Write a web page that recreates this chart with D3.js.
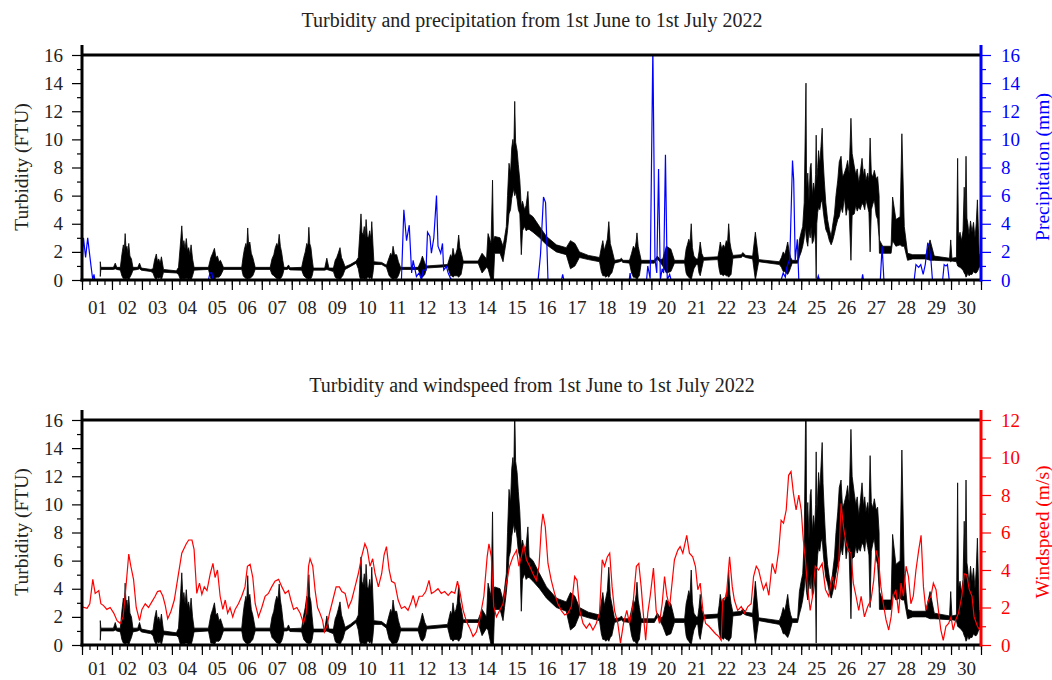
<!DOCTYPE html>
<html>
<head>
<meta charset="utf-8">
<script src="https://cdn.jsdelivr.net/npm/d3@7"></script>
<style>
  body { margin: 0; background: #fff; }
  svg text { font-family: "Liberation Serif", "Times New Roman", serif; }
</style>
</head>
<body>
<div id="chart"></div>
<script>
// day labels on the x axis (placed at midday)
var dayLabels = ["01","02","03","04","05","06","07","08","09","10",
                 "11","12","13","14","15","16","17","18","19","20",
                 "21","22","23","24","25","26","27","28","29","30"];

var leftTicks = [0, 2, 4, 6, 8, 10, 12, 14, 16];
var rainTicks = [0, 2, 4, 6, 8, 10, 12, 14, 16];
var windTicks = [0, 2, 4, 6, 8, 10, 12];

// turbidity (FTU): [day, low, high] envelope of the dense record
var turbidity = [
  [0.61,0.25,1.3],[0.63,0.75,0.9],[1.05,0.75,0.9],[1.11,0.8,1.2],[1.16,0.75,0.9],
  [1.28,0.7,0.9],[1.33,0.3,1.8],[1.38,0.1,2.5],[1.41,0.1,2.0],[1.44,0,3.3],[1.47,0.1,2.2],
  [1.5,0.1,2.4],[1.53,0.1,1.9],[1.56,0,2.6],[1.6,0.2,1.7],[1.65,0.4,1.5],[1.7,0.7,0.9],
  [1.86,0.75,0.9],[1.92,0.8,1.2],[1.98,0.7,0.85],[2.3,0.6,0.75],
  [2.37,0.5,0.8],[2.42,0.2,1.4],[2.48,0,1.85],[2.52,0.2,1.3],[2.56,0.1,1.5],[2.61,0.2,1.2],
  [2.65,0,1.65],[2.72,0.55,0.75],[3.15,0.5,0.65],
  [3.22,0.4,0.9],[3.27,0.1,2.2],[3.3,0,3.0],[3.33,0,3.85],[3.37,0.1,2.4],[3.4,0,2.8],
  [3.44,0.1,2.2],[3.48,0.1,2.95],[3.52,0.1,2.1],[3.56,0,2.3],[3.6,0.1,1.8],[3.64,0,2.5],
  [3.69,0.3,1.5],[3.74,0.7,0.9],
  [4.22,0.75,0.9],[4.3,0.1,1.6],[4.36,0.1,1.9],[4.42,0,2.25],[4.47,0.2,1.6],[4.52,0.2,1.7],
  [4.57,0.2,1.3],[4.62,0.3,1.4],[4.72,0.75,0.9],
  [5.33,0.75,0.9],[5.38,0.3,1.7],[5.42,0.2,2.2],[5.47,0.1,2.6],[5.5,0.1,2.3],[5.53,0,3.7],
  [5.56,0.1,2.5],[5.6,0.1,2.7],[5.65,0.2,1.9],[5.7,0.3,1.6],[5.78,0.75,0.9],
  [6.28,0.75,0.9],[6.34,0.4,1.5],[6.4,0.3,1.8],[6.45,0.2,2.3],[6.5,0.1,2.6],[6.54,0.1,2.4],
  [6.58,0,3.25],[6.62,0.1,2.4],[6.66,0.2,2.0],[6.7,0.4,1.4],[6.74,0.75,0.9],
  [6.84,0.75,0.9],[6.89,0.8,1.07],[6.94,0.72,0.87],
  [7.33,0.7,0.9],[7.4,0.3,1.6],[7.45,0.2,2.0],[7.5,0.1,2.6],[7.54,0.1,2.4],[7.57,0,3.75],
  [7.6,0.1,2.6],[7.64,0.1,2.3],[7.68,0.3,1.5],[7.72,0.7,0.85],
  [8.1,0.7,0.85],[8.17,0.75,1.55],[8.24,0.7,0.85],
  [8.39,0.6,0.85],[8.45,0.2,1.4],[8.5,0.1,1.6],[8.55,0.1,1.9],[8.61,0,2.3],[8.66,0.2,1.6],
  [8.7,0.3,1.4],[8.78,0.75,0.95],[8.95,0.95,1.1],[9.15,1.2,1.35],
  [9.22,0.8,1.6],[9.27,0.2,3.3],[9.31,0,4.7],[9.34,0.1,3.4],[9.38,0.1,3.2],[9.42,0,3.8],
  [9.45,0.1,3.0],[9.48,0,4.3],[9.52,0.2,3.1],[9.56,0.2,3.0],[9.6,0.1,3.5],[9.64,0.2,2.9],
  [9.67,0,4.15],[9.71,0.5,2.5],[9.74,1.1,1.3],[10.0,1.1,1.25],
  [10.16,0.9,1.05],[10.25,0.3,1.6],[10.3,0.2,1.9],[10.34,0.1,1.7],[10.38,0,2.4],
  [10.43,0.1,1.8],[10.5,0.1,1.8],[10.56,0.3,1.3],[10.63,0.75,0.9],
  [11.22,0.75,0.9],[11.3,0.3,1.3],[11.36,0.2,1.7],[11.44,0.4,1.2],[11.5,0.85,1.0],
  [12.2,0.95,1.1],[12.3,0.3,1.8],[12.34,0.3,1.6],[12.38,0.2,2.25],[12.43,0.3,1.7],
  [12.48,0.3,1.9],[12.52,0.3,2.2],[12.57,0.2,3.2],[12.61,0.3,2.3],[12.65,0.4,2.0],
  [12.72,1.2,1.35],[13.22,1.2,1.35],[13.35,0.5,1.9],[13.5,0.9,1.5],
  [13.55,0.8,3.3],[13.65,0,2.6],[13.7,0,7.1],[13.73,0,2.8],[13.77,1.9,3.1],
  [13.95,1.9,3.0],[14.05,1.3,2.4],[14.1,2.0,3.0],[14.16,2.8,3.8],[14.2,3.5,6.0],
  [14.25,4.7,8.3],[14.3,5.0,7.6],[14.34,5.8,9.4],[14.38,6.2,10.0],[14.41,6.5,9.3],
  [14.44,6.0,12.7],[14.47,6.3,9.8],[14.52,5.7,9.2],[14.56,5.0,8.2],[14.61,4.7,7.1],
  [14.66,1.8,5.2],[14.7,3.5,5.6],[14.77,3.8,5.0],[14.82,3.5,5.3],[14.88,3.6,6.3],
  [14.92,3.6,4.7],[15.05,3.4,4.5],[15.27,3.0,3.8],[15.5,2.5,3.1],
  [15.83,2.0,2.5],[16.16,1.8,2.3],[16.3,0.8,2.8],[16.45,1.0,2.6],[16.6,1.6,2.0],
  [16.9,1.45,1.75],
  [17.27,1.3,1.6],[17.33,0.6,2.3],[17.38,0.3,2.8],[17.43,0.3,2.1],[17.48,0.2,2.5],
  [17.53,0.3,2.9],[17.58,0.2,4.15],[17.63,0.4,2.6],[17.68,0.5,2.2],[17.77,1.2,1.4],
  [17.95,1.3,1.45],[18.0,1.35,1.55],[18.05,1.25,1.4],
  [18.27,1.2,1.4],[18.34,0.5,1.9],[18.4,0.2,2.4],[18.45,0.2,2.2],[18.49,0.1,2.7],
  [18.52,0,3.35],[18.56,0.2,2.4],[18.6,0.3,2.0],[18.66,1.2,1.4],
  [19.1,1.2,1.4],[19.2,1.5,1.7],[19.3,1.25,1.45],[19.38,1.0,1.5],[19.5,0.5,2.4],
  [19.65,0.6,2.2],[19.77,1.2,1.4],
  [20.11,1.2,1.4],[20.16,0.5,2.2],[20.2,0.3,2.5],[20.25,0.2,2.9],[20.29,0.1,2.6],
  [20.33,0,4.0],[20.37,0.4,2.3],[20.42,0.8,1.7],[20.5,1.1,1.5],[20.55,1.1,1.5],
  [20.59,0.5,2.0],[20.63,0.3,2.7],[20.68,0.8,1.9],[20.74,1.4,1.6],
  [21.22,1.45,1.65],[21.26,0.8,2.1],[21.3,0.4,2.7],[21.35,0.4,2.2],[21.4,0.3,2.5],
  [21.45,0.4,2.3],[21.5,0.3,2.8],[21.54,0.3,2.6],[21.58,0.2,4.0],[21.62,0.3,2.7],
  [21.66,0.4,2.2],[21.72,1.55,1.75],
  [22.0,1.6,1.8],[22.05,1.7,1.95],[22.15,1.6,1.75],[22.38,1.5,1.7],[22.47,0,3.4],
  [22.58,1.3,1.45],
  [23.27,1.1,1.3],[23.34,0.9,1.6],[23.4,0.6,2.0],[23.45,0.6,1.8],[23.5,0.5,2.2],
  [23.55,0.4,2.7],[23.6,0.6,2.0],[23.65,0.9,1.6],[23.7,1.2,1.4],[23.88,1.2,1.4],
  [23.94,1.65,2.85],[24.0,2.0,3.4],[24.05,2.4,3.8],[24.1,3.0,5.5],[24.14,3.8,11.3],
  [24.16,3.2,14.0],[24.18,2.8,6.5],[24.22,2.4,7.6],[24.26,3.5,5.6],[24.3,3.0,8.0],
  [24.33,3.8,8.3],[24.37,2.6,6.0],[24.41,2.8,6.9],[24.45,3.5,6.2],[24.48,2.5,7.5],
  [24.5,0.1,10.3],[24.52,4.0,7.0],[24.55,4.8,8.0],[24.58,5.2,9.2],[24.62,5.0,8.2],
  [24.66,5.5,9.5],[24.7,5.7,10.8],[24.73,5.0,8.6],[24.77,4.3,7.1],[24.82,3.6,5.5],
  [24.88,3.3,4.3],[24.94,2.8,3.6],[25.0,2.5,3.1],[25.05,2.8,3.9],[25.11,3.3,4.7],
  [25.16,3.8,6.0],[25.22,4.3,7.1],[25.27,4.5,8.4],[25.33,5.2,8.8],[25.38,4.8,7.3],
  [25.44,5.9,7.6],[25.5,4.6,8.0],[25.55,5.2,8.5],[25.6,4.9,7.6],[25.66,1.4,11.5],
  [25.7,4.6,9.0],[25.77,4.7,8.1],[25.82,5.3,7.5],[25.87,4.9,7.9],[25.92,5.2,6.9],
  [25.97,5.0,7.6],[26.03,5.45,8.65],[26.08,5.3,7.4],[26.12,5.0,7.9],[26.16,5.7,7.1],
  [26.22,5.2,7.6],[26.26,4.8,7.0],[26.3,2.0,10.1],[26.34,5.0,7.6],[26.39,5.4,7.3],
  [26.44,5.7,7.8],[26.5,4.6,7.2],[26.55,4.3,7.35],[26.6,3.0,6.0],[26.61,1.9,2.85],
  [26.72,1.9,2.4],[27.0,1.9,2.4],
  [27.05,2.8,5.9],[27.16,2.4,4.3],[27.3,2.5,4.5],[27.36,2.4,10.4],[27.44,2.4,3.8],
  [27.55,1.4,1.9],[27.72,1.5,1.8],[28.16,1.5,1.8],[28.3,1.4,2.85],[28.44,1.4,1.7],
  [28.95,1.35,1.55],[28.99,1.3,2.85],[29.03,1.35,1.55],[29.18,1.3,1.6],
  [29.22,1.0,8.65],[29.25,0.95,3.0],[29.3,0.9,3.4],[29.35,0.8,2.8],[29.4,0.7,3.5],
  [29.44,0.5,6.6],[29.47,0.4,4.2],[29.5,0.2,8.8],[29.53,0.3,4.4],[29.56,0.5,4.0],
  [29.6,0.3,3.2],[29.65,0.4,4.2],[29.7,0.4,3.4],[29.75,0.6,4.1],[29.8,0.5,3.0],
  [29.84,0.5,4.0],[29.88,0.6,5.7],[29.94,0.9,1.9],[30.0,1.0,1.5]
];

// precipitation (mm): [day, value]
var precipitation = [
  [0,1.0],[0.05,3.0],[0.12,1.6],[0.19,3.0],[0.3,1.0],[0.36,0],[0.4,0.4],[0.43,0],
  [4.22,0],[4.27,0.5],[4.33,0.5],[4.37,0],
  [10.66,0],[10.74,5.0],[10.83,2.8],[10.92,3.9],[11.0,0.5],[11.05,1.4],[11.16,0.25],
  [11.25,0.5],[11.33,0],[11.38,0.7],[11.48,0.7],[11.53,3.4],[11.61,3.1],[11.66,1.9],
  [11.74,3.0],[11.83,6.0],[11.88,2.4],[11.97,1.9],[12.03,2.6],[12.07,0.7],[12.16,0.95],
  [12.22,0.5],[12.3,0.1],[12.36,0],
  [15.22,0],[15.3,1.8],[15.4,5.9],[15.47,5.5],[15.55,0],
  [16.0,0],[16.04,0.4],[16.08,0],
  [18.26,0],[18.29,0.5],[18.32,0],
  [18.84,0],[18.88,1.0],[18.96,0.1],[19.05,16.5],[19.12,1.5],[19.18,0.5],[19.24,7.9],
  [19.3,0],[19.36,0.8],[19.41,0.5],[19.47,8.9],[19.53,0],[19.61,0.4],[19.66,0],
  [23.33,0],[23.4,0.5],[23.47,0.2],[23.52,0.9],[23.62,1.5],[23.71,8.5],[23.75,7.1],
  [23.8,1.4],[23.87,2.9],[23.92,0],
  [24.53,0],[24.57,0.3],[24.61,0],
  [26.02,0],[26.05,0.4],[26.08,0],
  [26.64,0],[26.7,2.4],[26.76,0],
  [27.77,0],[27.83,1.1],[27.92,0.9],[27.99,1.1],[28.07,0.4],[28.14,1.1],[28.22,2.6],
  [28.27,2.5],[28.33,1.4],[28.38,0],
  [28.72,0],[28.77,1.1],[28.83,1.0],[28.88,1.1],[28.94,0],[30,0]
];

// windspeed (m/s): [day, value]
var windspeed = [
  [0,2.04],[0.17,1.96],[0.26,2.2],[0.36,3.5],[0.44,2.75],[0.56,2.9],[0.63,2.2],[0.72,2.1],
  [0.83,1.9],[0.94,2.0],[1.06,1.7],[1.17,1.3],[1.28,1.15],[1.37,1.5],[1.44,2.6],[1.56,4.85],
  [1.63,4.2],[1.72,3.5],[1.81,2.0],[1.92,1.3],[2.0,1.9],[2.11,2.2],[2.22,2.0],[2.33,2.3],
  [2.44,2.6],[2.52,2.85],[2.61,2.9],[2.7,2.6],[2.78,2.1],[2.86,1.4],[2.97,1.8],[3.08,2.4],
  [3.19,3.5],[3.33,4.9],[3.48,5.4],[3.56,5.6],[3.67,5.6],[3.74,5.1],[3.83,2.75],[3.92,3.3],
  [4.0,2.7],[4.08,3.1],[4.17,2.9],[4.28,3.8],[4.37,4.35],[4.44,3.6],[4.52,4.0],[4.61,2.6],
  [4.7,1.9],[4.78,2.4],[4.86,1.7],[4.94,2.0],[5.03,1.5],[5.11,1.9],[5.22,2.2],[5.33,2.6],
  [5.44,3.1],[5.52,4.2],[5.61,4.3],[5.7,3.6],[5.78,2.2],[5.89,1.5],[6.0,2.0],[6.11,2.6],
  [6.22,2.75],[6.33,3.1],[6.44,3.4],[6.56,3.5],[6.67,3.1],[6.78,2.75],[6.89,2.9],[6.97,2.4],
  [7.06,1.9],[7.17,2.0],[7.28,1.7],[7.39,1.15],[7.48,1.7],[7.56,4.2],[7.61,4.6],[7.7,4.2],
  [7.78,2.9],[7.86,2.0],[7.94,1.7],[8.03,1.3],[8.09,0.7],[8.17,1.0],[8.26,1.7],[8.37,2.4],
  [8.48,3.1],[8.59,3.1],[8.67,2.85],[8.78,2.75],[8.89,2.0],[9.0,2.4],[9.11,3.1],[9.22,3.8],
  [9.33,4.7],[9.44,5.4],[9.52,5.1],[9.61,4.2],[9.7,4.6],[9.78,3.8],[9.89,3.1],[10.0,3.8],
  [10.08,4.8],[10.16,5.25],[10.25,4.0],[10.33,3.4],[10.44,3.3],[10.55,2.4],[10.66,1.95],
  [10.77,2.05],[10.88,1.85],[10.99,2.3],[11.05,2.65],[11.14,2.05],[11.25,2.6],[11.36,2.6],
  [11.47,2.85],[11.58,3.45],[11.66,2.75],[11.77,2.85],[11.88,3.0],[11.99,2.75],[12.1,2.85],
  [12.22,2.65],[12.33,2.85],[12.44,2.75],[12.53,3.4],[12.61,2.85],[12.72,1.85],[12.83,1.25],
  [12.94,0.9],[13.05,0.45],[13.16,0.7],[13.27,1.35],[13.41,2.6],[13.52,4.7],[13.58,5.4],
  [13.66,4.7],[13.74,2.05],[13.83,1.5],[13.94,1.85],[14.05,2.2],[14.16,3.3],[14.27,4.2],
  [14.38,4.7],[14.5,5.05],[14.58,4.2],[14.66,4.7],[14.74,5.35],[14.83,4.55],[14.94,4.2],
  [15.05,3.8],[15.16,3.45],[15.25,4.2],[15.33,6.3],[15.38,7.0],[15.46,6.3],[15.55,4.35],
  [15.66,3.45],[15.77,2.75],[15.88,2.2],[15.99,1.85],[16.11,1.6],[16.22,1.7],[16.33,2.05],
  [16.44,3.65],[16.52,3.45],[16.61,1.85],[16.72,1.15],[16.83,0.9],[16.94,1.15],[17.05,0.8],
  [17.16,1.15],[17.27,1.7],[17.36,4.55],[17.44,4.2],[17.53,4.7],[17.61,4.9],[17.69,3.1],
  [17.77,1.85],[17.88,1.15],[17.97,0.1],[18.07,1.15],[18.18,1.85],[18.27,1.15],[18.38,2.05],
  [18.5,4.2],[18.58,4.35],[18.66,3.1],[18.74,1.5],[18.81,0.25],[18.88,1.7],[18.96,2.6],
  [19.07,4.1],[19.16,1.85],[19.27,1.15],[19.36,2.2],[19.44,3.65],[19.52,2.6],[19.61,2.05],
  [19.7,3.45],[19.77,4.55],[19.88,5.05],[19.96,5.25],[20.05,4.9],[20.18,5.85],[20.27,4.9],
  [20.38,4.7],[20.47,4.2],[20.55,2.95],[20.63,3.3],[20.72,1.85],[20.81,1.15],[20.92,1.0],
  [21.03,0.8],[21.14,0.6],[21.25,0.45],[21.33,0.25],[21.38,2.4],[21.5,2.6],[21.61,4.7],
  [21.7,3.1],[21.77,2.4],[21.88,1.85],[22.0,2.05],[22.11,1.7],[22.22,2.05],[22.33,2.2],
  [22.41,3.65],[22.5,4.2],[22.58,4.0],[22.66,3.45],[22.74,2.95],[22.83,3.3],[22.92,2.65],
  [23.03,4.35],[23.14,3.8],[23.25,5.05],[23.33,6.65],[23.41,6.5],[23.5,7.2],[23.58,9.05],
  [23.66,9.25],[23.74,8.1],[23.83,7.2],[23.92,8.0],[24.0,7.2],[24.07,5.6],[24.14,4.55],
  [24.22,2.95],[24.3,1.85],[24.38,2.6],[24.47,4.2],[24.58,4.0],[24.7,4.35],[24.81,2.95],
  [24.92,2.6],[25.03,3.65],[25.14,2.95],[25.25,4.2],[25.33,7.55],[25.41,6.3],[25.5,5.4],
  [25.58,5.05],[25.66,4.9],[25.74,3.3],[25.83,2.6],[25.92,1.85],[26.0,2.6],[26.11,1.5],
  [26.22,2.05],[26.33,2.4],[26.42,3.45],[26.5,5.05],[26.58,4.55],[26.66,3.1],[26.74,2.2],
  [26.83,1.35],[26.92,0.8],[27.0,1.5],[27.07,2.6],[27.16,2.95],[27.25,1.7],[27.33,3.3],
  [27.41,2.6],[27.5,4.2],[27.58,3.65],[27.66,2.2],[27.74,2.6],[27.83,4.0],[27.92,5.05],
  [28.0,5.85],[28.08,3.1],[28.16,1.85],[28.25,2.4],[28.33,2.6],[28.41,3.3],[28.5,2.95],
  [28.58,1.85],[28.66,0.8],[28.74,0.25],[28.83,1.0],[28.92,1.15],[29.0,1.5],[29.07,0.8],
  [29.16,1.35],[29.25,1.7],[29.36,2.6],[29.44,3.8],[29.52,3.75],[29.61,2.95],[29.7,2.6],
  [29.77,1.5],[29.88,1.0],[29.96,0.8]
];

var width = 1052;
var height = 680;
var plotHeight = 225;
var textColor = "#222";

var svg = d3.select("#chart")
  .append("svg")
    .attr("width", width)
    .attr("height", height);

var x = d3.scaleLinear()
  .domain([0, 30])
  .range([82, 981]);

function styleAxis(g, size, color) {
  g.select(".domain").remove();
  g.attr("font-size", size)
   .attr("font-family", "Liberation Serif, Times New Roman, serif");
  g.selectAll(".tick line").attr("stroke", color).attr("stroke-width", 1.2);
  g.selectAll(".tick text").attr("fill", color === "#000" ? textColor : color);
}

function drawPanel(top, titleText, turbMax, series, rightMax, rightTicks, rightColor, rightTitle, clipId, labelPad) {
  var bottom = top + plotHeight;

  var yLeft = d3.scaleLinear().domain([0, 16]).range([bottom, top]);
  var yRight = d3.scaleLinear().domain([0, rightMax]).range([bottom, top]);
  // turbidity curve drawn against its own scale (the lower panel follows the windspeed scale)
  var yTurb = d3.scaleLinear().domain([0, turbMax]).range([bottom, top]);

  svg.append("clipPath")
      .attr("id", clipId)
    .append("rect")
      .attr("x", x(0))
      .attr("y", top)
      .attr("width", x(30) - x(0))
      .attr("height", plotHeight);

  var plot = svg.append("g").attr("clip-path", "url(#" + clipId + ")");

  plot.append("path")
    .datum(turbidity)
    .attr("fill", "#000")
    .attr("stroke", "#000")
    .attr("stroke-width", 0.8)
    .attr("d", d3.area()
      .x(function(d) { return x(d[0]); })
      .y0(function(d) { return yTurb(d[1]); })
      .y1(function(d) { return yTurb(d[2]); })
    );

  plot.append("path")
    .datum(series)
    .attr("fill", "none")
    .attr("stroke", rightColor)
    .attr("stroke-width", 1.2)
    .attr("d", d3.line()
      .x(function(d) { return x(d[0]); })
      .y(function(d) { return yRight(d[1]); })
    );

  // left axis: minor ticks every unit, labelled majors every 2
  svg.append("g")
    .attr("transform", "translate(" + x(0) + ",0)")
    .call(d3.axisLeft(yLeft).tickValues(d3.range(1, 16, 2)).tickSize(5).tickFormat(""))
    .call(styleAxis, 19, "#000");
  svg.append("g")
    .attr("transform", "translate(" + x(0) + ",0)")
    .call(d3.axisLeft(yLeft).tickValues(leftTicks).tickSize(10).tickPadding(9))
    .call(styleAxis, 19, "#000");

  // right axis
  svg.append("g")
    .attr("transform", "translate(" + x(30) + ",0)")
    .call(d3.axisRight(yRight).tickValues(d3.range(1, rightMax, 2)).tickSize(5).tickFormat(""))
    .call(styleAxis, 19, rightColor);
  svg.append("g")
    .attr("transform", "translate(" + x(30) + ",0)")
    .call(d3.axisRight(yRight).tickValues(rightTicks).tickSize(10).tickPadding(10))
    .call(styleAxis, 19, rightColor);

  // x axis: 6-hourly minor ticks, daily major ticks, labels at midday
  svg.append("g")
    .attr("transform", "translate(0," + bottom + ")")
    .call(d3.axisBottom(x).tickValues(d3.range(0, 30.01, 0.25)).tickSize(5).tickFormat(""))
    .call(styleAxis, 19, "#000");
  svg.append("g")
    .attr("transform", "translate(0," + bottom + ")")
    .call(d3.axisBottom(x).tickValues(d3.range(0, 31)).tickSize(10).tickFormat(""))
    .call(styleAxis, 19, "#000");
  svg.append("g")
    .attr("transform", "translate(0," + bottom + ")")
    .call(d3.axisBottom(x)
      .tickValues(dayLabels.map(function(s, i) { return i + 0.5; }))
      .tickSize(0).tickPadding(labelPad)
      .tickFormat(function(d, i) { return dayLabels[i]; }))
    .call(styleAxis, 19, "#000");

  // frame lines
  svg.append("line")
    .attr("x1", x(0)).attr("x2", x(30))
    .attr("y1", top).attr("y2", top)
    .attr("stroke", "#000").attr("stroke-width", 3);
  svg.append("line")
    .attr("x1", x(0) - 1.5).attr("x2", x(30))
    .attr("y1", bottom).attr("y2", bottom)
    .attr("stroke", "#000").attr("stroke-width", 3);
  svg.append("line")
    .attr("x1", x(0)).attr("x2", x(0))
    .attr("y1", top - 10).attr("y2", bottom + 1.5)
    .attr("stroke", "#000").attr("stroke-width", 3);
  svg.append("line")
    .attr("x1", x(30)).attr("x2", x(30))
    .attr("y1", top - 10).attr("y2", bottom + 1.5)
    .attr("stroke", rightColor).attr("stroke-width", 3);

  // titles
  svg.append("text")
    .attr("x", 532)
    .attr("y", top - 28)
    .attr("text-anchor", "middle")
    .attr("fill", textColor)
    .style("font-size", "20px")
    .text(titleText);

  svg.append("text")
    .attr("transform", "translate(28," + (top + 112) + ") rotate(-90)")
    .attr("text-anchor", "middle")
    .attr("fill", textColor)
    .style("font-size", "19.5px")
    .text("Turbidity (FTU)");

  svg.append("text")
    .attr("transform", "translate(1049," + (top + 112) + ") rotate(-90)")
    .attr("text-anchor", "middle")
    .attr("fill", rightColor)
    .style("font-size", "19.5px")
    .text(rightTitle);
}

drawPanel(55, "Turbidity and precipitation from 1st June to 1st July 2022",
          16, precipitation, 16, rainTicks, "#0000ff", "Precipitation (mm)", "clip-top", 21);

drawPanel(420, "Turbidity and windspeed from 1st June to 1st July 2022",
          12, windspeed, 12, windTicks, "#ff0000", "Windspeed (m/s)", "clip-bottom", 17);
</script>
</body>
</html>
